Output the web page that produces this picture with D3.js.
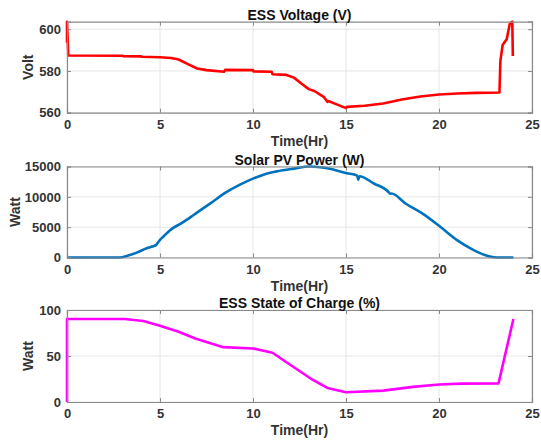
<!DOCTYPE html>
<html><head><meta charset="utf-8">
<script src="https://cdn.jsdelivr.net/npm/d3@7"></script>
<style>body{margin:0;background:#fff}svg{display:block}text{font-family:"Liberation Sans",Arial,sans-serif;font-weight:bold}</style>
</head><body>
<script>
// ---- data ----
const voltTime = [0,0,0.07,3,3.02,4,4.02,5,5.6,6,6.5,7,7.5,8.45,8.5,10,10.02,11,11.05,11.8,12.2,12.6,13,13.3,13.8,14,14.05,14.5,15,15.05,16,17,18,19,20,21,22,23.25,23.3,23.42,23.64,23.8,23.94,23.97];
const voltVal  = [593.6,603.6,587.4,587.3,587.1,587,586.8,586.6,586.2,585.5,583.3,581.2,580.4,579.6,580.5,580.4,579.8,579.6,578.4,578.1,576.8,574,571.3,570.4,567.6,565.2,565.6,564,562.2,562.8,563.3,564.4,566.3,567.8,568.7,569.2,569.5,569.7,584.8,592.4,595.2,602.4,603.6,587.2];
const pvTime = [0,2.85,3.21,3.75,4.28,4.5,4.64,4.8,4.9,5.0,5.2,5.54,6.2,6.79,7.69,8.59,9.3,10.0,10.6,11.27,12.17,13.06,14.0,15.04,15.6,15.66,15.72,16.5,17.3,17.37,17.45,18.2,19.16,20.05,20.95,21.84,22.3,22.74,23.1,24];
const pvVal  = [0,0,250,800,1510,1750,1850,2100,2500,2900,3500,4500,5750,6970,8890,10800,12000,13000,13700,14200,14650,15000,14700,13900,13500,12800,13400,12200,10750,10500,10550,8900,7140,5100,2910,1260,600,160,0,0];
const socTime = [0,0,3.1,4.1,5.0,6.0,6.9,8.4,10.0,11.05,11.9,13.1,14.0,15.0,17.0,18.6,20.0,21.2,23.2,24.0];
const socVal  = [0,90.2,90.2,88,83,76.4,69,59.6,58.2,53.5,41.8,25.5,15.3,10.6,12.4,16.4,19,20,20.2,90.2];
const xTicks = [0,5,10,15,20,25];
const voltTicks = [560,580,600];
const pvTicks = [0,5000,10000,15000];
const socTicks = [0,50,100];

const W = 541, H = 442;
const svg = d3.select("body").append("svg").attr("width",W).attr("height",H);
const left = 67, right = 532;
const x = d3.scaleLinear().domain([0,25]).range([left,right]);

function panel(opt){
  const y = d3.scaleLinear().domain(opt.ydom).range([opt.bottom,opt.top]);
  const g = svg.append("g");
  g.selectAll(".gx").data(xTicks).enter().append("line")
    .attr("x1",d=>x(d)).attr("x2",d=>x(d)).attr("y1",opt.top).attr("y2",opt.bottom)
    .attr("stroke","#e6e6e6").attr("stroke-width",1);
  g.selectAll(".gy").data(opt.ticks).enter().append("line")
    .attr("x1",left).attr("x2",right).attr("y1",d=>y(d)).attr("y2",d=>y(d))
    .attr("stroke","#e6e6e6").attr("stroke-width",1);
  const line = d3.line().x((d,i)=>x(opt.t[i])).y(d=>y(d)).curve(opt.curve||d3.curveLinear);
  g.append("path").datum(opt.v).attr("d",line).attr("fill","none")
    .attr("stroke",opt.color).attr("stroke-width",2.6).attr("stroke-linejoin","round");
  const xa = d3.axisBottom(x).tickValues(xTicks).tickSize(-4).tickPadding(7).tickFormat(d3.format("d"));
  const xb = d3.axisTop(x).tickValues(xTicks).tickSize(-4).tickFormat("");
  const ya = d3.axisLeft(y).tickValues(opt.ticks).tickSize(-4).tickPadding(6).tickFormat(d3.format("d"));
  const yb = d3.axisRight(y).tickValues(opt.ticks).tickSize(-4).tickFormat("");
  const ax = [
    g.append("g").attr("transform",`translate(0,${opt.bottom})`).call(xa),
    g.append("g").attr("transform",`translate(0,${opt.top})`).call(xb),
    g.append("g").attr("transform",`translate(${left},0)`).call(ya),
    g.append("g").attr("transform",`translate(${right},0)`).call(yb)
  ];
  ax.forEach(a=>{
    a.selectAll("path").attr("stroke","#8a8a8a").attr("stroke-width",1.2);
    a.selectAll("line").attr("stroke","#8a8a8a");
    a.selectAll("text").attr("fill","#333").attr("font-size","13px").attr("font-family",'"Liberation Sans",Arial,sans-serif').attr("font-weight","bold");
  });
  g.append("text").attr("x",(left+right)/2).attr("y",opt.top-2).attr("text-anchor","middle")
    .attr("font-size","14px").attr("fill","#111").text(opt.title);
  g.append("text").attr("x",(left+right)/2).attr("y",opt.bottom+33).attr("text-anchor","middle")
    .attr("font-size","14px").attr("fill","#333").text("Time(Hr)");
  g.append("text").attr("transform",`translate(${opt.ylx},${(opt.top+opt.bottom)/2}) rotate(-90)`)
    .attr("text-anchor","middle").attr("font-size","14px").attr("fill","#333").text(opt.ylabel);
}

panel({t:voltTime,v:voltVal,ydom:[560,603.6],ticks:voltTicks,top:21.7,bottom:112.7,color:"#ff0000",title:"ESS Voltage (V)",ylabel:"Volt",ylx:33});
panel({t:pvTime,v:pvVal,ydom:[0,15000],ticks:pvTicks,top:166.5,bottom:257.5,color:"#0072BD",title:"Solar PV Power (W)",ylabel:"Watt",ylx:20,curve:d3.curveMonotoneX});
panel({t:socTime,v:socVal,ydom:[0,100],ticks:socTicks,top:310,bottom:402,color:"#ff00ff",title:"ESS State of Charge (%)",ylabel:"Watt",ylx:33});
</script>
</body></html>
